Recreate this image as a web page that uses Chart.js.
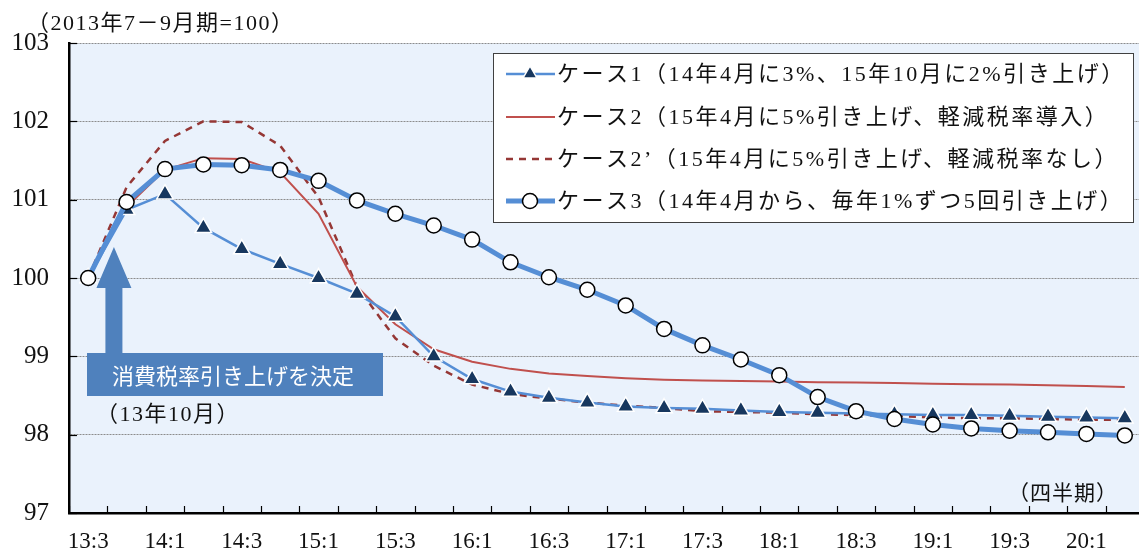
<!DOCTYPE html>
<html>
<head>
<meta charset="utf-8">
<script src="https://cdn.jsdelivr.net/npm/chart.js@4.4.1/dist/chart.umd.min.js"></script>
<style>
  html, body { margin: 0; padding: 0; overflow: hidden; background: #fff; width: 1139px; height: 554px; }
  #wrap { width: 1155px; height: 554px; }
</style>
</head>
<body>
<div id="wrap"><canvas id="c" width="1155" height="554"></canvas></div>
<script>
// Quarters (year:quarter), 2013 Q3 through 2020 Q2
const quarters = ['13:3','13:4','14:1','14:2','14:3','14:4','15:1','15:2','15:3','15:4',
                  '16:1','16:2','16:3','16:4','17:1','17:2','17:3','17:4','18:1','18:2',
                  '18:3','18:4','19:1','19:2','19:3','19:4','20:1','20:2'];

// Index values, 2013 Jul-Sep = 100
const case1 = [100, 100.87, 101.07, 100.64, 100.37, 100.18, 100.00, 99.80, 99.51, 99.00,
               98.71, 98.55, 98.47, 98.41, 98.36, 98.34, 98.33, 98.31, 98.29, 98.28,
               98.27, 98.26, 98.25, 98.25, 98.24, 98.23, 98.22, 98.21];
const case2 = [100, 100.91, 101.38, 101.53, 101.52, 101.35, 100.82, 99.89, 99.41, 99.09,
               98.93, 98.84, 98.78, 98.75, 98.72, 98.70, 98.69, 98.685, 98.68, 98.67,
               98.665, 98.66, 98.65, 98.645, 98.64, 98.63, 98.62, 98.61];
const case2b = [100, 101.16, 101.75, 102.00, 101.99, 101.69, 101.03, 99.89, 99.23, 98.88,
                98.64, 98.52, 98.46, 98.41, 98.37, 98.34, 98.30, 98.29, 98.28, 98.26,
                98.25, 98.24, 98.22, 98.21, 98.21, 98.20, 98.19, 98.19];
const case3 = [100, 100.97, 101.39, 101.45, 101.44, 101.38, 101.24, 100.99, 100.82, 100.67,
               100.49, 100.20, 100.01, 99.85, 99.65, 99.35, 99.14, 98.96, 98.76, 98.48,
               98.30, 98.20, 98.13, 98.08, 98.05, 98.03, 98.01, 97.99];

const yTicks = [97, 98, 99, 100, 101, 102, 103];

const seriesNames = [
  'ケース1（14年4月に3%、15年10月に2%引き上げ）',
  'ケース2（15年4月に5%引き上げ、軽減税率導入）',
  'ケース2’（15年4月に5%引き上げ、軽減税率なし）',
  'ケース3（14年4月から、毎年1%ずつ5回引き上げ）'
];

const SERIF = '"Liberation Serif", "Noto Sans CJK JP", serif';
const SANS = '"Noto Sans CJK JP", "Noto Sans", sans-serif';
const BLUE = '#558ED5';
const NAVY = '#17375E';
const RED = '#C0504D';
const DARKRED = '#953735';
const NOTE = '#4F81BD';

// Light-blue plot background
const plotBg = {
  id: 'plotBg',
  beforeDraw(chart) {
    const { ctx, chartArea: a } = chart;
    ctx.save();
    ctx.fillStyle = '#EAF2FC';
    ctx.fillRect(a.left, a.top, a.right - a.left, a.bottom - a.top);
    ctx.restore();
  }
};

function spacedText(ctx, text, x, y, spacing) {
  ctx.save();
  ctx.letterSpacing = spacing + 'px';
  ctx.fillText(text, x, y);
  ctx.restore();
}

// Inward tick marks, legend box, annotation and captions
const decorations = {
  id: 'decorations',
  afterDatasetsDraw(chart) {
    const { ctx, chartArea: a, scales: { x, y } } = chart;
    ctx.save();
    ctx.strokeStyle = '#000';
    ctx.lineWidth = 1.2;
    // y ticks pointing into the plot
    yTicks.forEach(v => {
      const py = Math.round(y.getPixelForValue(v)) + 0.5;
      ctx.beginPath(); ctx.moveTo(a.left, py); ctx.lineTo(a.left + 8, py); ctx.stroke();
    });
    // x ticks on category boundaries, pointing up
    const step = x.getPixelForValue(1) - x.getPixelForValue(0);
    for (let i = 0; i <= quarters.length; i++) {
      const px = Math.round(x.getPixelForValue(0) - step / 2 + i * step) + 0.5;
      ctx.beginPath(); ctx.moveTo(px, a.bottom); ctx.lineTo(px, a.bottom - 7); ctx.stroke();
    }
    ctx.restore();

    // Annotation arrow and box
    const x0 = x.getPixelForValue(0);
    const ax = x0 + step * 0.67;
    ctx.save();
    ctx.fillStyle = NOTE;
    ctx.beginPath();
    ctx.moveTo(ax, 247);
    ctx.lineTo(ax + 17.5, 288);
    ctx.lineTo(ax + 8.5, 288);
    ctx.lineTo(ax + 8.5, 354);
    ctx.lineTo(ax - 8.5, 354);
    ctx.lineTo(ax - 8.5, 288);
    ctx.lineTo(ax - 17.5, 288);
    ctx.closePath();
    ctx.fill();
    ctx.fillRect(87, 353, 296, 43);
    ctx.fillStyle = '#fff';
    ctx.font = '22px ' + SANS;
    ctx.textBaseline = 'middle';
    ctx.textAlign = 'left';
    ctx.fillText('消費税率引き上げを決定', 112, 376);
    ctx.fillStyle = '#111';
    ctx.font = '22px ' + SERIF;
    spacedText(ctx, '（13年10月）', 96, 415, 1.5);
    ctx.restore();

    // Legend box
    const lx = 493, ly = 53, lw = 640, lh = 169;
    ctx.save();
    ctx.fillStyle = '#fff';
    ctx.fillRect(lx, ly, lw, lh);
    ctx.strokeStyle = '#404040';
    ctx.lineWidth = 1;
    ctx.strokeRect(lx + 0.5, ly + 0.5, lw, lh);
    const rows = [74, 117, 159, 201];
    const legendOrder = [1, 2, 3, 0]; // dataset indices: case1, case2, case2', case3
    legendOrder.forEach((di, r) => {
      const ds = chart.data.datasets[di];
      const ry = rows[r];
      ctx.save();
      ctx.strokeStyle = ds.borderColor;
      ctx.lineWidth = ds.borderWidth;
      ctx.setLineDash(ds.borderDash || []);
      ctx.beginPath(); ctx.moveTo(506, ry); ctx.lineTo(555, ry); ctx.stroke();
      ctx.restore();
      if (ds.pointRadius > 0) {
        ctx.save();
        ctx.fillStyle = ds.pointBackgroundColor;
        ctx.strokeStyle = ds.pointBorderColor;
        ctx.lineWidth = ds.pointBorderWidth;
        ctx.beginPath();
        if (ds.pointStyle === 'triangle') {
          const r = 8;
          ctx.moveTo(530, ry - r);
          ctx.lineTo(530 + r * 0.866, ry + r * 0.5);
          ctx.lineTo(530 - r * 0.866, ry + r * 0.5);
          ctx.closePath();
        } else {
          ctx.arc(530, ry, 7.5, 0, Math.PI * 2);
        }
        ctx.fill(); ctx.stroke();
        ctx.restore();
      }
      ctx.save();
      ctx.fillStyle = '#111';
      ctx.font = '22px ' + SERIF;
      ctx.textBaseline = 'middle';
      spacedText(ctx, ds.label, 557, ry + 1, 2.5);
      ctx.restore();
    });
    ctx.restore();
  },
  afterDraw(chart) {
    const { ctx } = chart;
    ctx.save();
    ctx.fillStyle = '#111';
    ctx.textBaseline = 'middle';
    ctx.font = '22px ' + SERIF;
    spacedText(ctx, '（2013年7－9月期=100）', 27, 24, 1.5);
    ctx.font = '21px ' + SERIF;
    spacedText(ctx, '（四半期）', 1008, 494, 1);
    ctx.restore();
  }
};

new Chart(document.getElementById('c'), {
  type: 'line',
  data: {
    labels: quarters,
    datasets: [
      {
        label: seriesNames[3], data: case3, order: 0,
        borderColor: BLUE, borderWidth: 5, tension: 0,
        pointStyle: 'circle', pointRadius: 7.5, pointBackgroundColor: '#fff',
        pointBorderColor: '#000', pointBorderWidth: 1.5
      },
      {
        label: seriesNames[0], data: case1, order: 1,
        borderColor: BLUE, borderWidth: 2.5, tension: 0,
        pointStyle: 'triangle', pointRadius: 9.5, pointBackgroundColor: NAVY,
        pointBorderColor: '#fff', pointBorderWidth: 1.5
      },
      {
        label: seriesNames[1], data: case2, order: 2,
        borderColor: RED, borderWidth: 2, tension: 0, pointRadius: 0
      },
      {
        label: seriesNames[2], data: case2b, order: 3,
        borderColor: DARKRED, borderWidth: 2.5, borderDash: [7, 6], tension: 0, pointRadius: 0
      }
    ]
  },
  options: {
    responsive: false,
    animation: false,
    events: [],
    layout: { padding: { top: 43, right: 0, bottom: 0, left: 0 } },
    plugins: { legend: { display: false }, tooltip: { enabled: false }, title: { display: false } },
    scales: {
      x: {
        type: 'category',
        offset: true,
        grid: { display: false, drawTicks: false },
        border: { display: true, color: '#000', width: 2.5 },
        ticks: {
          autoSkip: false, maxRotation: 0, minRotation: 0, padding: 15,
          color: '#111', font: { family: SERIF, size: 23 },
          callback: (v, i) => (i % 2 === 0 ? quarters[i] : '')
        },
        afterFit: s => { s.height = 41; s.paddingLeft = 0; s.paddingRight = 0; }
      },
      y: {
        min: 97, max: 103,
        afterBuildTicks: s => { s.ticks = yTicks.map(v => ({ value: v })); },
        grid: { color: '#8C8C8C', lineWidth: 1, drawTicks: false },
        border: { display: true, color: '#000', width: 2.5, dash: [2, 1] },
        ticks: { padding: 20, color: '#111', font: { family: SERIF, size: 25 } },
        afterFit: s => { s.width = 69; s.paddingTop = 0; s.paddingBottom = 0; }
      }
    }
  },
  plugins: [plotBg, decorations]
});
</script>
</body>
</html>
